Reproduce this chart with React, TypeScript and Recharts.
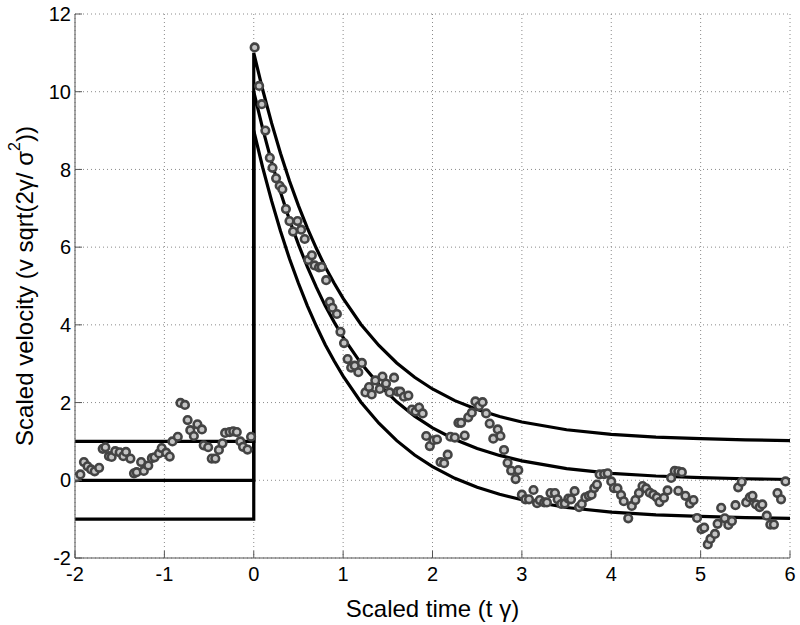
import React from 'react';
import { ComposedChart, Line, Scatter, XAxis, YAxis, CartesianGrid } from 'recharts';

const FONT = '"Liberation Sans", Arial, Helvetica, sans-serif';

const xTicks = [-2, -1, 0, 1, 2, 3, 4, 5, 6];
const yTicks = [-2, 0, 2, 4, 6, 8, 10, 12];

// Baseline levels before t = 0 (upper, middle, lower)
const baseT = [-2, 0];
const upperBase = [1, 1];
const middleBase = [0, 0];
const lowerBase = [-1, -1];

// Relaxation curves after t = 0
const curveT = [0, 0.1, 0.2, 0.3, 0.4, 0.5, 0.6, 0.7, 0.8, 0.9, 1.0, 1.2, 1.4, 1.6, 1.8, 2.0, 2.25, 2.5, 2.75, 3.0, 3.5, 4.0, 4.5, 5.0, 5.5, 6.0];
const upperCurve = [11, 10.05, 9.19, 8.41, 7.7, 7.07, 6.49, 5.97, 5.49, 5.07, 4.68, 4.01, 3.47, 3.02, 2.65, 2.35, 2.05, 1.82, 1.64, 1.5, 1.3, 1.18, 1.11, 1.07, 1.04, 1.02];
const middleCurve = [10, 9.05, 8.19, 7.41, 6.7, 6.07, 5.49, 4.97, 4.49, 4.07, 3.68, 3.01, 2.47, 2.02, 1.65, 1.35, 1.05, 0.82, 0.64, 0.5, 0.3, 0.18, 0.11, 0.07, 0.04, 0.02];
const lowerCurve = [9, 8.05, 7.19, 6.41, 5.7, 5.07, 4.49, 3.97, 3.49, 3.07, 2.68, 2.01, 1.47, 1.02, 0.65, 0.35, 0.05, -0.18, -0.36, -0.5, -0.7, -0.82, -0.89, -0.93, -0.96, -0.98];

// Observed scaled velocity samples
const obsT = [
  -1.98, -1.94, -1.9, -1.86, -1.82, -1.78, -1.73, -1.69, -1.66, -1.62, -1.59, -1.55, -1.5, -1.46, -1.43, -1.38, -1.34, -1.31, -1.26, -1.23,
  -1.18, -1.14, -1.11, -1.06, -1.03, -0.98, -0.94, -0.91, -0.85, -0.82, -0.77, -0.74, -0.71, -0.67, -0.63, -0.58, -0.56, -0.51, -0.47, -0.43,
  -0.39, -0.35, -0.32, -0.27, -0.23, -0.19, -0.15, -0.12, -0.07, -0.03,
  0.01, 0.06, 0.09, 0.13, 0.18, 0.21, 0.25, 0.29, 0.32, 0.36, 0.4, 0.44, 0.49, 0.53, 0.57, 0.61, 0.65, 0.68, 0.73, 0.76,
  0.81, 0.85, 0.88, 0.93, 0.97, 1.01, 1.05, 1.09, 1.13, 1.17, 1.21, 1.25, 1.29, 1.32, 1.36, 1.41, 1.44, 1.48, 1.52, 1.57,
  1.61, 1.64, 1.68, 1.73, 1.77, 1.81, 1.85, 1.89, 1.93, 1.97, 2.01, 2.05, 2.09, 2.13, 2.17, 2.2, 2.25, 2.29, 2.32, 2.36,
  2.4, 2.44, 2.48, 2.52, 2.56, 2.6, 2.64, 2.68, 2.73, 2.76, 2.8, 2.84, 2.88, 2.93, 2.96, 3.0, 3.04, 3.08, 3.13, 3.17,
  3.2, 3.25, 3.28, 3.32, 3.37, 3.4, 3.44, 3.48, 3.52, 3.55, 3.59, 3.64, 3.67, 3.71, 3.75, 3.78, 3.81, 3.84, 3.87, 3.92,
  3.96, 4.0, 4.03, 4.07, 4.11, 4.14, 4.19, 4.23, 4.27, 4.31, 4.35, 4.39, 4.43, 4.47, 4.51, 4.54, 4.59, 4.63, 4.67, 4.71,
  4.75, 4.79, 4.75, 4.83, 4.88, 4.92, 4.96, 5.01, 5.04, 5.08, 5.11, 5.16, 5.19, 5.23, 5.27, 5.31, 5.35, 5.39, 5.42, 5.46,
  5.51, 5.55, 5.58, 5.62, 5.66, 5.69, 5.74, 5.78, 5.82, 5.86, 5.9, 5.95,
];
const obsV = [
  0.08, 0.15, 0.47, 0.36, 0.28, 0.23, 0.32, 0.81, 0.85, 0.62, 0.6, 0.75, 0.72, 0.62, 0.73, 0.56, 0.18, 0.21, 0.47, 0.24,
  0.38, 0.57, 0.59, 0.69, 0.83, 0.71, 0.61, 1.0, 1.12, 1.99, 1.94, 1.55, 1.29, 1.14, 1.44, 1.31, 0.9, 0.85, 0.56, 0.56,
  0.78, 0.95, 1.22, 1.24, 1.26, 1.24, 1.0, 0.86, 0.79, 1.12,
  11.14, 10.15, 9.68, 9.0, 8.3, 8.04, 7.77, 7.58, 7.49, 6.98, 6.67, 6.4, 6.67, 6.45, 6.21, 5.67, 5.79, 5.53, 5.48, 5.49,
  5.15, 4.59, 4.44, 4.28, 3.82, 3.53, 3.12, 2.9, 2.95, 2.78, 3.02, 2.26, 2.4, 2.21, 2.57, 2.35, 2.67, 2.49, 2.26, 2.64,
  2.28, 2.28, 2.15, 2.18, 1.82, 1.77, 1.87, 1.72, 1.14, 0.88, 1.03, 1.05, 0.47, 0.44, 0.66, 1.12, 1.1, 1.48, 1.48, 1.15,
  1.62, 1.74, 2.03, 1.91, 2.01, 1.72, 1.46, 1.07, 1.31, 1.14, 0.78, 0.45, 0.25, 0.03, 0.26, -0.37, -0.49, -0.49, -0.25, -0.59,
  -0.51, -0.57, -0.57, -0.33, -0.33, -0.49, -0.61, -0.6, -0.47, -0.49, -0.28, -0.69, -0.61, -0.44, -0.4, -0.37, -0.2, -0.11, 0.15, 0.16,
  0.18, -0.03, -0.2, -0.21, -0.38, -0.54, -0.98, -0.66, -0.51, -0.33, -0.15, -0.21, -0.32, -0.37, -0.44, -0.56, -0.45, -0.26, 0.06, 0.24,
  0.23, 0.21, -0.27, -0.4, -0.6, -0.51, -0.97, -1.26, -1.22, -1.65, -1.51, -1.38, -1.12, -0.71, -0.98, -1.15, -1.05, -0.64, -0.18, -0.04,
  -0.57, -0.44, -0.4, -0.62, -0.69, -0.62, -0.91, -1.14, -1.14, -0.33, -0.49, -0.03,
];

const buildCurve = (base: number[], curve: number[]) => [
  ...baseT.map((t, i) => ({ t, v: base[i] })),
  ...curveT.map((t, i) => ({ t, v: curve[i] })),
];

const upperData = buildCurve(upperBase, upperCurve);
const middleData = buildCurve(middleBase, middleCurve);
const lowerData = buildCurve(lowerBase, lowerCurve);
const obsData = obsT.map((t, i) => ({ t, v: obsV[i] }));

const TICK_FONT = 20;
const X_MARGIN = 9;
const Y_MARGIN = 4;
const INNER = 7;
const BOX = '#555';

const BottomTick = (props: any) => {
  const { x, y, payload } = props;
  const axisY = y - X_MARGIN;
  return (
    <g>
      <line x1={x} x2={x} y1={axisY} y2={axisY - INNER} stroke={BOX} strokeWidth={1} />
      <text x={x} y={y} dy="0.71em" textAnchor="middle" fontSize={TICK_FONT} fill="#000" fontFamily={FONT}>
        {payload.value}
      </text>
    </g>
  );
};

const LeftTick = (props: any) => {
  const { x, y, payload } = props;
  const axisX = x + Y_MARGIN;
  return (
    <g>
      <line x1={axisX} x2={axisX + INNER} y1={y} y2={y} stroke={BOX} strokeWidth={1} />
      <text x={x} y={y} dy="0.355em" textAnchor="end" fontSize={TICK_FONT} fill="#000" fontFamily={FONT}>
        {payload.value}
      </text>
    </g>
  );
};

const TopTick = (props: any) => {
  const { x, y } = props;
  return <line x1={x} x2={x} y1={y} y2={y + INNER} stroke={BOX} strokeWidth={1} />;
};

const RightTick = (props: any) => {
  const { x, y } = props;
  return <line x1={x} x2={x - INNER} y1={y} y2={y} stroke={BOX} strokeWidth={1} />;
};

const XTitle = (props: any) => {
  const { viewBox } = props;
  const cx = viewBox.x + viewBox.width / 2;
  const cy = viewBox.y + 50;
  return (
    <text x={cx} y={cy} textAnchor="middle" dominantBaseline="central" fontSize={24} fill="#000" fontFamily={FONT}>
      Scaled time (t γ)
    </text>
  );
};

const YTitle = (props: any) => {
  const { viewBox } = props;
  const cx = viewBox.x + 24;
  const cy = viewBox.y + viewBox.height / 2;
  return (
    <text
      x={cx}
      y={cy}
      transform={`rotate(-90, ${cx}, ${cy})`}
      textAnchor="middle"
      dominantBaseline="central"
      fontSize={24}
      fill="#000"
      fontFamily={FONT}
    >
      Scaled velocity (v sqrt(2γ/ σ<tspan dy={-10} fontSize={16}>2</tspan>
      <tspan dy={10}>))</tspan>
    </text>
  );
};

const Marker = (props: any) => {
  const { cx, cy } = props;
  if (cx == null || cy == null) return null;
  return <circle cx={cx} cy={cy} r={3.8} fill="#c4c4c4" stroke="#444" strokeWidth={2.6} />;
};

export default function App() {
  return (
    <div style={{ position: 'absolute', left: 0, top: 0, width: 800, height: 625, background: '#fff' }}>
      <ComposedChart
        width={800}
        height={625}
        margin={{ top: 14, right: 10, bottom: 0, left: 0 }}
        style={{ fontFamily: FONT }}
      >
        <CartesianGrid xAxisId="bottom" yAxisId="left" stroke="#8a8a8a" strokeDasharray="1 3" strokeWidth={1} />
        <XAxis
          xAxisId="bottom"
          dataKey="t"
          type="number"
          domain={[-2, 6]}
          ticks={xTicks}
          allowDataOverflow
          height={67}
          tickSize={0}
          tickMargin={X_MARGIN}
          tick={<BottomTick />}
          axisLine={{ stroke: BOX }}
          interval={0}
          label={<XTitle />}
        />
        <XAxis
          xAxisId="top"
          orientation="top"
          dataKey="t"
          type="number"
          domain={[-2, 6]}
          ticks={xTicks}
          allowDataOverflow
          height={0}
          tickSize={0}
          tickMargin={0}
          tick={<TopTick />}
          axisLine={{ stroke: BOX }}
          interval={0}
        />
        <YAxis
          yAxisId="left"
          dataKey="v"
          type="number"
          domain={[-2, 12]}
          ticks={yTicks}
          allowDataOverflow
          width={75}
          tickSize={0}
          tickMargin={Y_MARGIN}
          tick={<LeftTick />}
          axisLine={{ stroke: BOX }}
          interval={0}
          label={<YTitle />}
        />
        <YAxis
          yAxisId="right"
          orientation="right"
          dataKey="v"
          type="number"
          domain={[-2, 12]}
          ticks={yTicks}
          allowDataOverflow
          width={0}
          tickSize={0}
          tickMargin={0}
          tick={<RightTick />}
          axisLine={{ stroke: BOX }}
          interval={0}
        />
        <Line xAxisId="bottom" yAxisId="left" data={upperData} dataKey="v" type="linear" stroke="#000" strokeWidth={3.2} dot={false} activeDot={false} isAnimationActive={false} />
        <Line xAxisId="bottom" yAxisId="left" data={middleData} dataKey="v" type="linear" stroke="#000" strokeWidth={3.2} dot={false} activeDot={false} isAnimationActive={false} />
        <Line xAxisId="bottom" yAxisId="left" data={lowerData} dataKey="v" type="linear" stroke="#000" strokeWidth={3.2} dot={false} activeDot={false} isAnimationActive={false} />
        <Scatter xAxisId="bottom" yAxisId="left" data={obsData} dataKey="v" shape={<Marker />} isAnimationActive={false} />
      </ComposedChart>
    </div>
  );
}
